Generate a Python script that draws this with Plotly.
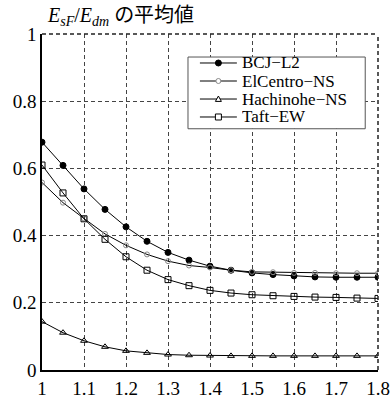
import plotly.graph_objects as go

x_vals = [1.0, 1.05, 1.1, 1.15, 1.2, 1.25, 1.3, 1.35, 1.4, 1.45, 1.5, 1.55, 1.6, 1.65, 1.7, 1.75, 1.8]
bcj_l2 = [0.678, 0.609, 0.539, 0.478, 0.426, 0.383, 0.350, 0.327, 0.309, 0.297, 0.289, 0.284, 0.280, 0.277, 0.276, 0.276, 0.276]
elcentro_ns = [0.558, 0.498, 0.451, 0.405, 0.371, 0.344, 0.324, 0.311, 0.305, 0.297, 0.292, 0.291, 0.289, 0.289, 0.288, 0.288, 0.288]
hachinohe_ns = [0.144, 0.111, 0.087, 0.069, 0.057, 0.051, 0.046, 0.044, 0.043, 0.042, 0.042, 0.042, 0.042, 0.042, 0.042, 0.042, 0.042]
taft_ew = [0.610, 0.527, 0.450, 0.389, 0.337, 0.297, 0.269, 0.251, 0.237, 0.229, 0.224, 0.221, 0.219, 0.217, 0.216, 0.214, 0.213]

series_names = ["BCJ\u2212L2", "ElCentro\u2212NS", "Hachinohe\u2212NS", "Taft\u2212EW"]
x_ticks = [1, 1.1, 1.2, 1.3, 1.4, 1.5, 1.6, 1.7, 1.8]
x_tick_labels = ["1", "1.1", "1.2", "1.3", "1.4", "1.5", "1.6", "1.7", "1.8"]
y_ticks = [0, 0.2, 0.4, 0.6, 0.8, 1]
y_tick_labels = ["0", "0.2", "0.4", "0.6", "0.8", "1"]

serif = "Liberation Serif, DejaVu Serif, serif"

fig = go.Figure()
styles = [
    dict(symbol="circle", size=6, color="black", line=dict(color="black", width=1)),
    dict(symbol="circle-open", size=5, color="#888888", line=dict(color="#888888", width=1)),
    dict(symbol="triangle-up-open", size=6, color="black", line=dict(color="black", width=1)),
    dict(symbol="square-open", size=6, color="black", line=dict(color="black", width=1)),
]
for name, ys, st in zip(series_names, [bcj_l2, elcentro_ns, hachinohe_ns, taft_ew], styles):
    fig.add_trace(go.Scatter(
        x=x_vals, y=ys, name=name, mode="lines+markers",
        line=dict(color="black", width=1),
        marker=st, showlegend=False,
    ))

grid_dash = "4px,3px"
fig.update_layout(
    width=390, height=396,
    margin=dict(l=42, r=12, t=34, b=26),
    paper_bgcolor="white", plot_bgcolor="white",
    font=dict(family=serif, size=18, color="black"),
    showlegend=False,
    xaxis=dict(
        range=[1, 1.8], tickvals=x_ticks, ticktext=x_tick_labels,
        showgrid=True, gridcolor="#444444", griddash=grid_dash, gridwidth=1,
        showline=True, linecolor="black", linewidth=1.5, automargin=False,
        zeroline=False, ticks="", ticklen=0, tickfont=dict(family=serif, size=19),
    ),
    yaxis=dict(
        range=[0, 1], tickvals=y_ticks, ticktext=y_tick_labels,
        showgrid=True, gridcolor="#444444", griddash=grid_dash, gridwidth=1,
        showline=True, linecolor="black", linewidth=1.5, automargin=False,
        zeroline=False, ticks="", ticklen=0, tickfont=dict(family=serif, size=19),
    ),
)

# dashed top and right frame
fig.add_shape(type="line", xref="paper", yref="paper", x0=0, x1=1, y0=1, y1=1,
              line=dict(color="#222222", width=1.5, dash=grid_dash))
fig.add_shape(type="line", xref="paper", yref="paper", x0=1, x1=1, y0=0, y1=1,
              line=dict(color="#222222", width=1.5, dash=grid_dash))

# legend box (drawn as shapes + text so row spacing matches the reference)
fig.add_shape(type="rect", xref="paper", yref="paper", x0=0.4345, x1=0.962, y0=0.718, y1=0.9315,
              line=dict(color="#555555", width=1), fillcolor="white", layer="above")
row_y = [0.9137, 0.8601, 0.8065, 0.7530]
line_x0, line_x1, mark_x, text_x = 0.470, 0.580, 0.525, 0.589
for name, yy, st in zip(series_names, row_y, styles):
    fig.add_shape(type="line", xref="paper", yref="paper", x0=line_x0, x1=line_x1, y0=yy, y1=yy,
                  line=dict(color="black", width=1), layer="above")
    sym = st["symbol"]
    r = st["size"] / 2
    common = dict(xref="paper", yref="paper", xsizemode="pixel", ysizemode="pixel",
                  xanchor=mark_x, yanchor=yy, layer="above")
    if sym == "circle":
        fig.add_shape(type="circle", x0=-r, x1=r, y0=-r, y1=r, fillcolor="black",
                      line=dict(color="black", width=1), **common)
    elif sym == "circle-open":
        fig.add_shape(type="circle", x0=-r, x1=r, y0=-r, y1=r, fillcolor="white",
                      line=dict(color="#888888", width=1), **common)
    elif sym == "triangle-up-open":
        fig.add_shape(type="path", path=f"M{-r},{-r*0.8} L{r},{-r*0.8} L0,{r} Z", fillcolor="white",
                      line=dict(color="black", width=1), **common)
    else:
        fig.add_shape(type="rect", x0=-r, x1=r, y0=-r, y1=r, fillcolor="white",
                      line=dict(color="black", width=1), **common)
    fig.add_annotation(xref="paper", yref="paper", x=text_x, y=yy, xanchor="left", yanchor="middle",
                       showarrow=False, text=name, height=17, valign="middle",
                       font=dict(family=serif, size=17, color="black"))

fig.add_annotation(
    xref="paper", yref="paper", x=0.01, y=1.0, xanchor="left", yanchor="bottom",
    yshift=3, showarrow=False,
    text="<i>E</i><sub><i>sF</i></sub>/<i>E</i><sub><i>dm</i></sub> の平均値",
    font=dict(family="Liberation Serif, Noto Sans CJK JP, serif", size=20, color="black"),
)

fig.write_html("out.html", config={"displayModeBar": False},
               post_script="document.body.style.margin='0';document.body.style.overflow='hidden';")
